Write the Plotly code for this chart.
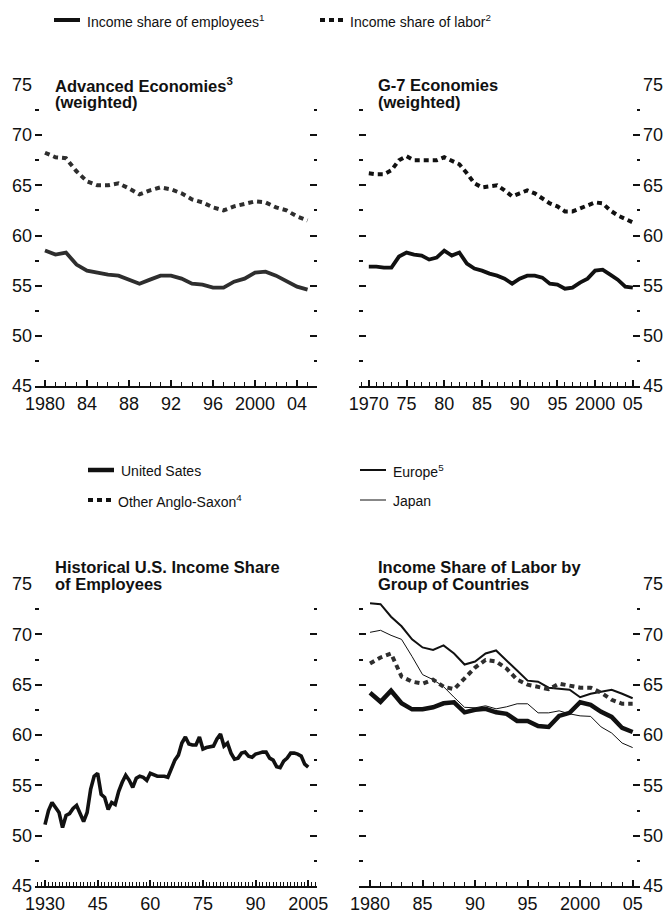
"""Labor income shares: four small panels (advanced economies, G-7, U.S. history,
groups of countries) in the condensed black-and-white house style."""

import plotly.graph_objects as go

# --- data -------------------------------------------------------------------

YEARS_ADV = list(range(1980, 2006))
ADV_EMPLOYEES = [58.5, 58.1, 58.3, 57.1, 56.5, 56.3, 56.1, 56.0, 55.6, 55.2, 55.6, 56.0, 56.0,
                 55.7, 55.2, 55.1, 54.8, 54.8, 55.4, 55.7, 56.3, 56.4, 56.0, 55.5, 54.9, 54.6]
ADV_LABOR = [68.25, 67.8, 67.7, 66.4, 65.4, 65.0, 65.0, 65.2, 64.7, 64.1, 64.5, 64.8, 64.6,
             64.2, 63.6, 63.3, 62.8, 62.5, 62.9, 63.1, 63.4, 63.3, 62.8, 62.5, 61.9, 61.5]

YEARS_G7 = list(range(1970, 2006))
G7_EMPLOYEES = [56.9, 56.9, 56.8, 56.8, 57.9, 58.3, 58.1, 58.0, 57.6, 57.8,
                58.5, 58.0, 58.3, 57.2, 56.7, 56.5, 56.2, 56.0, 55.7, 55.2,
                55.7, 56.0, 56.0, 55.8, 55.2, 55.1, 54.7, 54.8, 55.3, 55.7,
                56.5, 56.6, 56.1, 55.6, 54.9, 54.8]
G7_LABOR = [66.2, 66.1, 66.1, 66.5, 67.5, 67.9, 67.5, 67.5, 67.4, 67.5,
            67.8, 67.5, 67.1, 66.2, 65.2, 64.8, 64.9, 65.0, 64.5, 63.9,
            64.2, 64.5, 64.2, 63.7, 63.2, 62.9, 62.4, 62.4, 62.7, 62.9,
            63.3, 63.2, 62.5, 62.0, 61.6, 61.3]

YEARS_US = list(range(1930, 2006))
US_EMPLOYEES_HIST = [51.1, 52.5, 53.3, 52.8, 52.3, 50.8, 52.0, 52.2, 52.7, 53.0,
                     52.2, 51.4, 52.3, 54.6, 55.9, 56.2, 54.1, 53.8, 52.6, 53.3,
                     53.1, 54.4, 55.3, 56.0, 55.5, 54.8, 55.7, 55.9, 55.8, 55.5,
                     56.2, 56.0, 55.9, 55.9, 55.9, 55.8, 56.75, 57.5, 58.0, 59.2,
                     59.8, 59.1, 59.0, 59.0, 59.8, 58.6, 58.75, 58.8, 58.9, 59.6,
                     60.1, 58.9, 59.2, 58.2, 57.6, 57.7, 58.2, 58.3, 57.9, 57.8,
                     58.1, 58.2, 58.3, 58.3, 57.7, 57.5, 56.85, 56.75, 57.4, 57.7,
                     58.2, 58.2, 58.1, 57.9, 57.1, 56.8]

YEARS_GROUPS = list(range(1980, 2006))
GRP_US = [64.2, 63.3, 64.4, 63.15, 62.55, 62.55, 62.75, 63.15, 63.25, 62.25, 62.5, 62.6, 62.25,
          62.1, 61.4, 61.4, 60.9, 60.8, 61.9, 62.2, 63.25, 63.0, 62.3, 61.8, 60.7, 60.3]
GRP_ANGLO = [67.1, 67.7, 68.1, 65.8, 65.3, 65.1, 65.5, 64.8, 64.55, 65.65, 66.7, 67.45, 67.3,
             66.6, 65.5, 65.0, 64.75, 64.55, 65.1, 64.9, 64.7, 64.7, 64.2, 63.5, 63.1, 63.1]
GRP_EUROPE = [73.1, 73.0, 71.75, 70.8, 69.5, 68.7, 68.45, 68.9, 68.1, 67.0, 67.3, 68.1, 68.4,
              67.45, 66.4, 65.4, 65.3, 64.7, 64.6, 64.5, 63.75, 64.1, 64.3, 64.5, 64.1, 63.65]
GRP_JAPAN = [70.2, 70.4, 69.9, 69.5, 67.8, 66.0, 65.5, 64.8, 63.75, 62.75, 62.7, 62.9, 62.6,
             62.8, 63.1, 63.1, 62.2, 62.2, 62.4, 62.1, 61.9, 61.85, 60.8, 60.2, 59.2, 58.75]

Y_TICKS = [45, 50, 55, 60, 65, 70, 75]

ADV_TICKVALS = [1980, 1984, 1988, 1992, 1996, 2000, 2004]
ADV_TICKTEXT = ["1980", "84", "88", "92", "96", "2000", "04"]
G7_TICKVALS = [1970, 1975, 1980, 1985, 1990, 1995, 2000, 2005]
G7_TICKTEXT = ["1970", "75", "80", "85", "90", "95", "2000", "05"]
US_TICKVALS = [1930, 1945, 1960, 1975, 1990, 2005]
US_TICKTEXT = ["1930", "45", "60", "75", "90", "2005"]
GRP_TICKVALS = [1980, 1985, 1990, 1995, 2000, 2005]
GRP_TICKTEXT = ["1980", "85", "90", "95", "2000", "05"]

# --- style --------------------------------------------------------------------

W, H = 671, 918
# no condensed face is installed: Arial metrics, sized to the original text widths
FONT = "Liberation Sans, Arial, sans-serif"
INK = "#111111"
GREY_INK = "#2e2e2e"
DOTS = "5px,4px"


def fx(p):
    """Pixel column -> paper fraction."""
    return p / W


def fy(p):
    """Pixel row (from top) -> paper fraction."""
    return 1 - p / H


LEFT = [fx(35), fx(317)]
RIGHT = [fx(359), fx(640)]
TOP = [fy(386), fy(85)]
BOTTOM = [fy(886), fy(584)]


def y_axis(domain, side, anchor):
    return dict(
        domain=domain, range=[45, 75], side=side, anchor=anchor, automargin=False,
        tickmode="array", tickvals=Y_TICKS, ticks="inside", ticklen=7, tickwidth=1.5,
        tickcolor=INK, mirror="ticks", showline=False, showgrid=False, zeroline=False,
        minor=dict(tickmode="linear", tick0=45, dtick=2.5, ticks="inside", ticklen=3.5,
                   tickwidth=1.5, tickcolor=INK, showgrid=False),
        ticklabelstandoff=2,
        tickfont=dict(family=FONT, size=18, color=INK), fixedrange=True,
    )


def x_axis(domain, anchor, rng, tickvals, ticktext):
    return dict(
        domain=domain, anchor=anchor, range=rng, automargin=False, tickangle=0,
        tickmode="array", tickvals=tickvals, ticktext=ticktext,
        ticks="inside", ticklen=6, tickwidth=1.5, tickcolor=INK,
        showline=True, linecolor=INK, linewidth=2, showgrid=False, zeroline=False,
        minor=dict(tickmode="linear", tick0=tickvals[0], dtick=1, ticks="inside",
                   ticklen=4, tickwidth=1.2, tickcolor=INK, showgrid=False),
        tickfont=dict(family=FONT, size=18, color=INK), fixedrange=True,
    )


def line(x, y, axes, width, color=INK, dash="solid"):
    xa, ya = axes
    return go.Scatter(x=x, y=y, xaxis=xa, yaxis=ya, mode="lines", showlegend=False,
                      hoverinfo="skip", line=dict(color=color, width=width, dash=dash))


fig = go.Figure()

# Advanced economies
fig.add_trace(line(YEARS_ADV, ADV_EMPLOYEES, ("x", "y"), 3.8, GREY_INK))
fig.add_trace(line(YEARS_ADV, ADV_LABOR, ("x", "y"), 4, GREY_INK, DOTS))
# G-7
fig.add_trace(line(YEARS_G7, G7_EMPLOYEES, ("x2", "y2"), 3.8))
fig.add_trace(line(YEARS_G7, G7_LABOR, ("x2", "y2"), 4, INK, DOTS))
# U.S. history
fig.add_trace(line(YEARS_US, US_EMPLOYEES_HIST, ("x3", "y3"), 3.6))
# groups of countries
fig.add_trace(line(YEARS_GROUPS, GRP_JAPAN, ("x4", "y4"), 1))
fig.add_trace(line(YEARS_GROUPS, GRP_EUROPE, ("x4", "y4"), 2))
fig.add_trace(line(YEARS_GROUPS, GRP_ANGLO, ("x4", "y4"), 4, GREY_INK, DOTS))
fig.add_trace(line(YEARS_GROUPS, GRP_US, ("x4", "y4"), 4.5))

fig.update_layout(
    xaxis=x_axis(LEFT, "y", [1979.05, 2005.9], ADV_TICKVALS, ADV_TICKTEXT),
    yaxis=y_axis(TOP, "left", "x"),
    xaxis2=x_axis(RIGHT, "y2", [1968.7, 2005.95], G7_TICKVALS, G7_TICKTEXT),
    yaxis2=y_axis(TOP, "right", "x2"),
    xaxis3=x_axis(LEFT, "y3", [1927.15, 2007.5], US_TICKVALS, US_TICKTEXT),
    yaxis3=y_axis(BOTTOM, "left", "x3"),
    xaxis4=x_axis(RIGHT, "y4", [1978.95, 2005.7], GRP_TICKVALS, GRP_TICKTEXT),
    yaxis4=y_axis(BOTTOM, "right", "x4"),
    width=W, height=H, margin=dict(l=0, r=0, t=0, b=0, pad=0),
    paper_bgcolor="white", plot_bgcolor="white", showlegend=False,
    font=dict(family=FONT, color=INK),
)

# --- panel titles (two lines each, set tight like the print original) ----------

TITLES = [
    (53, 85, "Advanced Economies<sup>3</sup>"), (53, 102, "(weighted)"),
    (376, 85, "G-7 Economies"), (376, 102, "(weighted)"),
    (53, 567, "Historical U.S. Income Share"), (53, 584, "of Employees"),
    (376, 567, "Income Share of Labor by"), (376, 584, "Group of Countries"),
]
for x0, y0, text in TITLES:
    fig.add_annotation(x=fx(x0), y=fy(y0), xref="paper", yref="paper", text=f"<b>{text}</b>",
                       showarrow=False, xanchor="left", yanchor="middle",
                       font=dict(family=FONT, size=16.5, color=INK))

# --- hand-placed keys ------------------------------------------------------------

KEYS = [
    # (x of sample, y, text, width, dash)
    (54, 20, "Income share of employees<sup>1</sup>", 4, "solid"),
    (320, 20, "Income share of labor<sup>2</sup>", 4, "dot"),
    (88, 470, "United Sates", 4.5, "solid"),
    (88, 500, "Other Anglo-Saxon<sup>4</sup>", 4, "dot"),
    (360, 470, "Europe<sup>5</sup>", 2, "solid"),
    (360, 500, "Japan", 1, "solid"),
]
for x0, y0, text, width, dash in KEYS:
    sample = 23 if dash == "dot" else 26
    fig.add_shape(type="line", xref="paper", yref="paper",
                  x0=fx(x0), x1=fx(x0 + sample), y0=fy(y0), y1=fy(y0),
                  line=dict(color=INK, width=width, dash=DOTS if dash == "dot" else "solid"))
    fig.add_annotation(x=fx(x0 + sample + 5), y=fy(y0 + 1), xref="paper", yref="paper",
                       text=text, showarrow=False, xanchor="left", yanchor="middle",
                       font=dict(family=FONT, size=14, color=INK))

# the page's default 8px body margin would push the fixed-size figure past the window
fig.write_html("out.html", config={"displayModeBar": False},
               post_script="document.body.style.margin='0';"
                           "document.body.style.overflow='hidden';")
